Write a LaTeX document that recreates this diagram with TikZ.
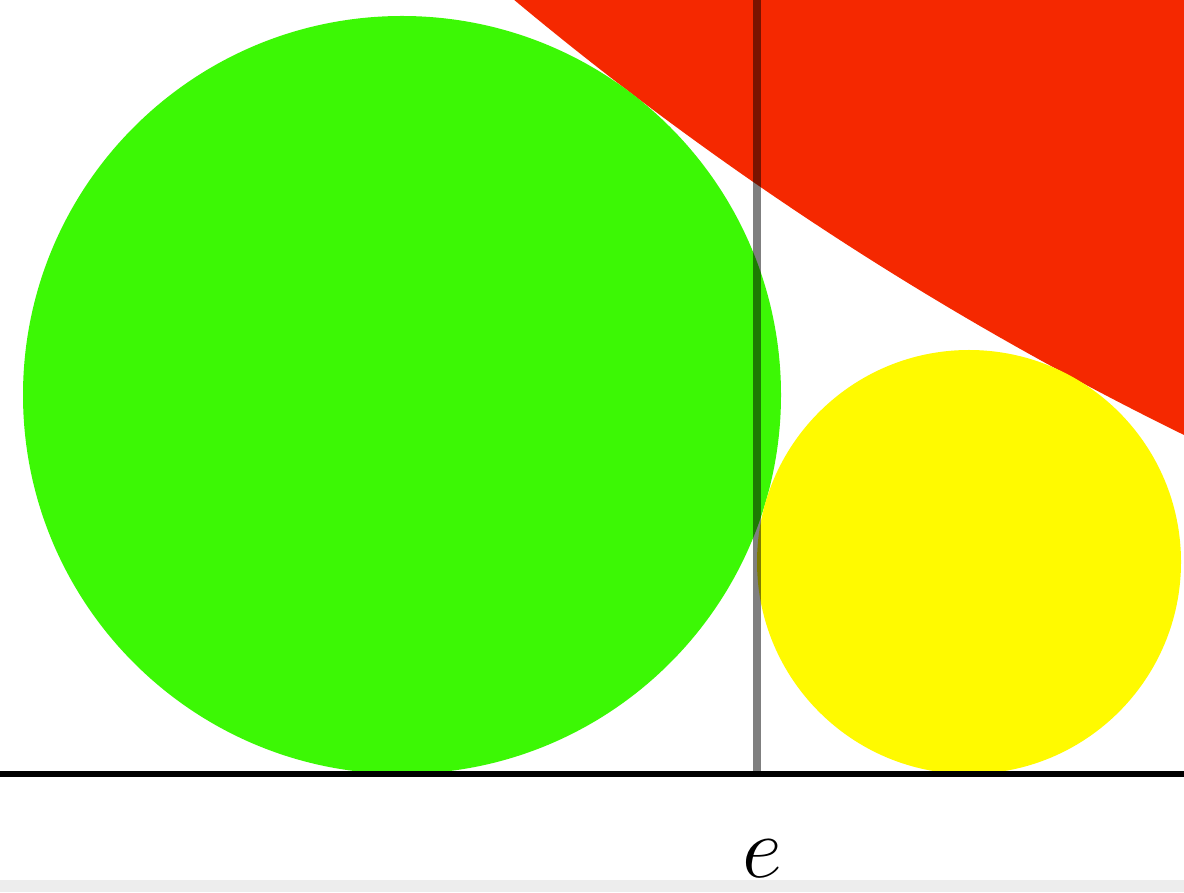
\documentclass[tikz,border=0pt]{standalone}
\usepackage{xcolor}
\usepackage{tikz}
\usetikzlibrary{positioning}

\definecolor{discgreen}{RGB}{60,248,5}
\definecolor{discyellow}{RGB}{255,250,0}
\definecolor{discred}{RGB}{245,40,0}

\begin{document}
\begin{tikzpicture}[
    disc/.style={circle, inner sep=0pt, draw=none},
    guide/.style={black, opacity=0.5, line width=2.2pt},
    base/.style={black, line width=1.6pt}]
        \useasboundingbox (0,0) rectangle (11.84,8.92);
        \fill[black!7] (0,0) rectangle (11.84,0.12);
        \clip (0,0) rectangle (11.84,8.92);

        \node[disc, fill=discred, minimum size=66.72cm] (big) at (26.51,34.54) {};
        \node[disc, fill=discgreen, minimum size=7.58cm] (left) at (4.02,4.97) {};
        \node[disc, fill=discyellow, minimum size=4.24cm] (right) at (9.69,3.30) {};

        \coordinate (west) at (0,1.18);
        \coordinate (east) at (11.84,1.18);
        \coordinate (top) at (7.57,8.92);
        \coordinate (foot) at (7.57,1.18);
        \node[anchor=base, inner sep=0pt, font=\fontsize{38}{44}\selectfont] (e)
            at ([xshift=0.05cm, yshift=-1.03cm]foot) {$e$};

        \draw[guide] (top) -- (foot);
        \draw[base] (west) -- (east);
    \end{tikzpicture}
\end{document}
